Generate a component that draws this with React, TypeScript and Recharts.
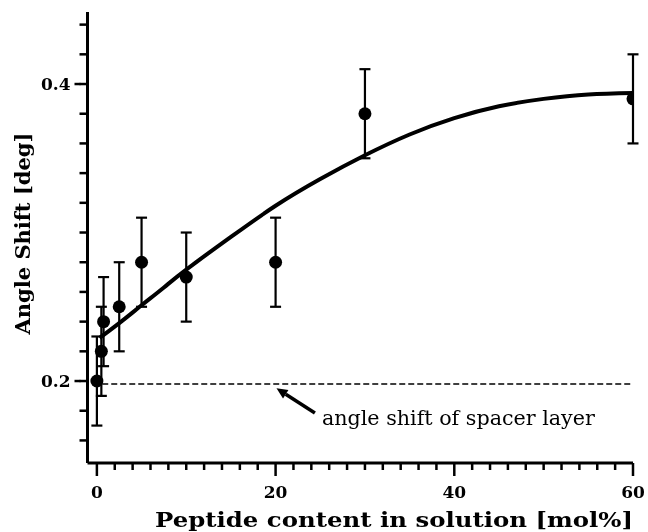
import React from "react";
import {
  ComposedChart,
  Line,
  Scatter,
  ErrorBar,
  XAxis,
  YAxis,
  ReferenceLine,
} from "recharts";

// measured angle shift vs. peptide content, with error bars
const peptideContent = [0, 0.5, 0.75, 2.5, 5, 10, 20, 30, 60];
const angleShift = [0.2, 0.22, 0.24, 0.25, 0.28, 0.27, 0.28, 0.38, 0.39];
const angleShiftError = [0.03, 0.03, 0.03, 0.03, 0.03, 0.03, 0.03, 0.03, 0.03];

// fitted curve through the measurements
const fitContent = [0.3, 2.5, 5, 7.5, 10, 15, 20, 25, 30, 35, 40, 45, 50, 55, 60];
const fitShift = [
  0.229, 0.239, 0.251, 0.263, 0.275, 0.297, 0.318, 0.336, 0.352, 0.366, 0.377,
  0.385, 0.39, 0.393, 0.394,
];

// bare spacer layer level
const spacerShift = 0.198;
const spacerFrom = 0.6;
const spacerTo = 60;

const xTicks = [
  0, 2, 4, 6, 8, 10, 12, 14, 16, 18, 20, 22, 24, 26, 28, 30, 32, 34, 36, 38, 40,
  42, 44, 46, 48, 50, 52, 54, 56, 58, 60,
];
const xTickLabels = [0, 20, 40, 60];
const yTicks = [
  0.16, 0.18, 0.2, 0.22, 0.24, 0.26, 0.28, 0.3, 0.32, 0.34, 0.36, 0.38, 0.4,
  0.42, 0.44,
];
const yTickLabels = ["0.2", "0.4"];

const points = peptideContent.map((x, i) => ({
  x,
  y: angleShift[i],
  err: angleShiftError[i],
}));
const fit = fitContent.map((x, i) => ({ x, y: fitShift[i] }));

const FONT = "'DejaVu Serif', serif";

const XTick = (props: any) => {
  const x = Number(props.x);
  const y = Number(props.y);
  const value = props.payload?.value;
  const major = xTickLabels.includes(value);
  return (
    <g>
      <path d={`M${x},${y}V${y + (major ? 13 : 7)}`} stroke="#000" strokeWidth={2.5} fill="none" />
      {major && (
        <text x={x} y={y + 35} textAnchor="middle" fontFamily={FONT} fontWeight="bold" fontSize={17} fill="#000">
          {value}
        </text>
      )}
    </g>
  );
};

// built-in tick line gives the short marks; labelled ones get extended
const YTick = (props: any) => {
  const x = Number(props.x);
  const y = Number(props.y);
  const value = props.payload?.value;
  const label = yTickLabels.find((l) => Math.abs(Number(l) - value) < 1e-6);
  if (!label) return <g />;
  return (
    <g>
      <path d={`M${x + 1},${y}H${x - 5}`} stroke="#000" strokeWidth={2.5} fill="none" />
      <text x={x - 9} y={y + 6} textAnchor="end" fontFamily={FONT} fontWeight="bold" fontSize={17} fill="#000">
        {label}
      </text>
    </g>
  );
};

const Dot = (props: any) => <circle cx={props.cx} cy={props.cy} r={6.5} fill="#000" />;

// arrow pointing at the dashed line, with its caption at the tail
const Arrow = ({ x1, y1, x2, y2 }: any) => {
  const dx = x2 - x1;
  const dy = y2 - y1;
  const len = Math.hypot(dx, dy);
  const ux = dx / len;
  const uy = dy / len;
  const head = 11;
  const half = 5;
  const bx = x2 - ux * head;
  const by = y2 - uy * head;
  return (
    <g>
      <line x1={x1} y1={y1} x2={bx} y2={by} stroke="#000" strokeWidth={3.5} />
      <polygon
        points={`${x2},${y2} ${bx - uy * half},${by + ux * half} ${bx + uy * half},${by - ux * half}`}
        fill="#000"
      />
      <text
        x={x1 + 7}
        y={y1 + 12}
        textLength={273}
        lengthAdjust="spacingAndGlyphs"
        fontFamily={FONT}
        fontSize={20}
        fill="#000"
      >
        angle shift of spacer layer
      </text>
    </g>
  );
};

export default function App() {
  return (
    <div style={{ position: "fixed", top: 8, left: 8 }}>
      <ComposedChart
        width={640}
        height={524}
        margin={{ top: 4, right: 15, left: 0, bottom: 0 }}
      >
        <XAxis
          dataKey="x"
          type="number"
          domain={[-1.05, 60]}
          ticks={xTicks}
          interval={0}
          height={69}
          tickSize={0}
          tickMargin={0}
          tickLine={false}
          tick={<XTick />}
          axisLine={{ stroke: "#000", strokeWidth: 3 }}
          allowDataOverflow
          label={{
            content: ({ viewBox }: any) => (
              <text
                x={386}
                y={viewBox.y + 64}
                textAnchor="middle"
                textLength={478}
                lengthAdjust="spacingAndGlyphs"
                fontFamily={FONT}
                fontWeight="bold"
                fontSize={21}
                fill="#000"
              >
                Peptide content in solution [mol%]
              </text>
            ),
          }}
        />
        <YAxis
          type="number"
          domain={[0.1448, 0.4485]}
          ticks={yTicks}
          interval={0}
          width={79.5}
          tickSize={8}
          tickMargin={0}
          tickLine={{ stroke: "#000", strokeWidth: 2.5 }}
          tick={<YTick />}
          axisLine={{ stroke: "#000", strokeWidth: 3 }}
          allowDataOverflow
          label={{
            content: ({ viewBox }: any) => {
              const cx = 14;
              const cy = viewBox.y + viewBox.height / 2 - 4;
              return (
                <text
                  x={cx}
                  y={cy}
                  transform={`rotate(-90, ${cx}, ${cy})`}
                  textAnchor="middle"
                  dominantBaseline="central"
                  fontFamily={FONT}
                  fontWeight="bold"
                  fontSize={21}
                  fill="#000"
                >
                  Angle Shift [deg]
                </text>
              );
            },
          }}
        />
        <ReferenceLine
          segment={[
            { x: spacerFrom, y: spacerShift },
            { x: spacerTo, y: spacerShift },
          ]}
          stroke="#000"
          strokeWidth={1.3}
          strokeDasharray="6 3"
        />
        <ReferenceLine
          segment={[
            { x: 24.4, y: 0.1785 },
            { x: 20.1, y: 0.1951 },
          ]}
          shape={<Arrow />}
        />
        <Line
          data={fit}
          dataKey="y"
          type="natural"
          stroke="#000"
          strokeWidth={4}
          dot={false}
          activeDot={false}
          isAnimationActive={false}
        />
        <Scatter data={points} dataKey="y" shape={<Dot />} isAnimationActive={false}>
          <ErrorBar dataKey="err" direction="y" width={5.5} strokeWidth={2.2} stroke="#000" isAnimationActive={false} />
        </Scatter>
      </ComposedChart>
    </div>
  );
}
